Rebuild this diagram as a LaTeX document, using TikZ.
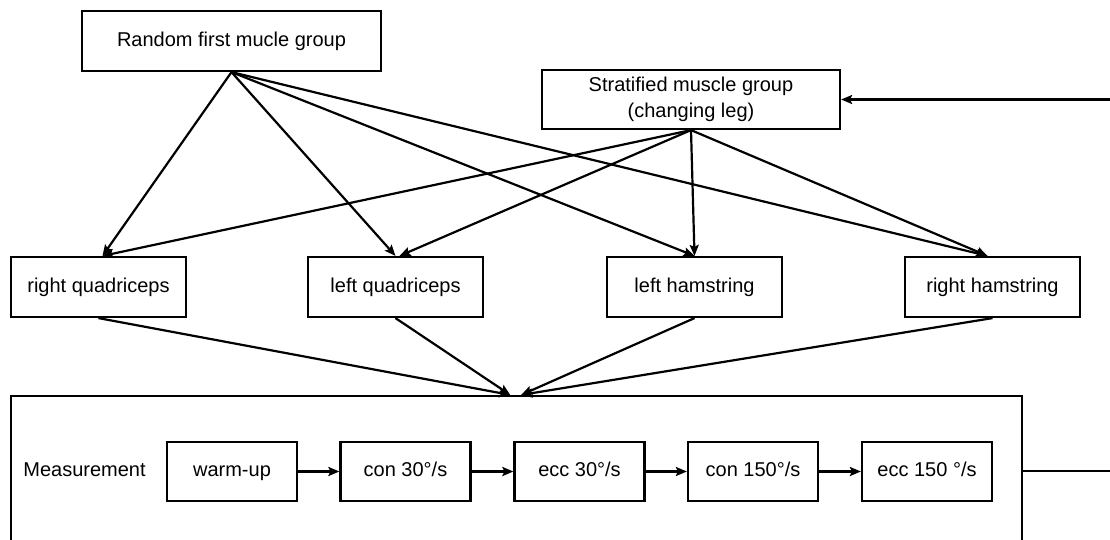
\documentclass[tikz,border=0pt]{standalone}
\usepackage{fontspec}
\setmainfont{Liberation Sans}
\usetikzlibrary{arrows.meta,calc}
\begin{document}
\begin{tikzpicture}[x=1pt,y=-1pt,
  box/.style={draw, line width=2.2pt, inner sep=0pt, align=center, font=\fontsize{20}{26}\selectfont},
  rowbox/.style={box, minimum width=175pt, minimum height=60pt, text height=14.5pt, text depth=4pt},
  stepbox/.style={box, minimum width=130pt, minimum height=59pt, text height=14.5pt, text depth=4pt},
  arr/.style={line width=2.2pt, -{Stealth[length=11pt,width=9pt,inset=2pt]}},
  ]
\useasboundingbox (0,0) rectangle (1110,540);
\clip (0,0) rectangle (1110,540);
% top
\node[box, minimum width=299pt, minimum height=60pt, text height=14.5pt, text depth=4pt] (rand) at (231.5,41) {Random first mucle group};
\node[box, minimum width=298pt, minimum height=59pt] (strat) at (691,99.5) {Stratified muscle group\\(changing leg)};
% row
\node[rowbox] (rq) at (98.5,287) {right quadriceps};
\node[rowbox] (lq) at (395.5,287) {left quadriceps};
\node[rowbox] (lh) at (694.5,287) {left hamstring};
\node[rowbox] (rh) at (992.5,287) {right hamstring};
% measurement
\node[draw, line width=2.2pt, inner sep=0pt, minimum width=1011pt, minimum height=150pt] (meas) at (516.2,471) {};
\node[font=\fontsize{20}{24}\selectfont, inner sep=0pt, text height=14.5pt, text depth=4pt] (mlabel) at (84.5,471.5) {Measurement};
\node[stepbox] (s1) at (232,471.5) {warm-up};
\node[stepbox] (s2) at (405.5,471.5) {con 30°/s};
\node[stepbox] (s3) at (579.5,471.5) {ecc 30°/s};
\node[stepbox] (s4) at (753,471.5) {con 150°/s};
\node[stepbox] (s5) at (927,471.5) {ecc 150 °/s};
% connectors top
\draw[arr] (rand.south) -- ($(rq.north)+(4,0)$);
\draw[arr] (rand.south) -- (lq.north);
\draw[arr] (rand.south) -- (lh.north);
\draw[arr] (rand.south) -- ($(rh.north)+(-5,0)$);
\draw[arr] (strat.south) -- ($(rq.north)+(4,0)$);
\draw[arr] (strat.south) -- ($(lq.north)+(4,0)$);
\draw[arr] (strat.south) -- (lh.north);
\draw[arr] (strat.south) -- ($(rh.north)+(-5,0)$);
% connectors bottom
\draw[arr] (rq.south) -- ($(meas.north)+(-6,0)$);
\draw[arr] (lq.south) -- ($(meas.north)+(-6,0)$);
\draw[arr] (lh.south) -- ($(meas.north)+(5,0)$);
\draw[arr] (rh.south) -- ($(meas.north)+(5,0)$);
% steps
\draw[arr] (s1.east) -- (s2.west);
\draw[arr] (s2.east) -- (s3.west);
\draw[arr] (s3.east) -- (s4.west);
\draw[arr] (s4.east) -- (s5.west);
% feedback
\draw[arr] (meas.east) -- ++(120,0) |- (strat.east);
\end{tikzpicture}
\end{document}
